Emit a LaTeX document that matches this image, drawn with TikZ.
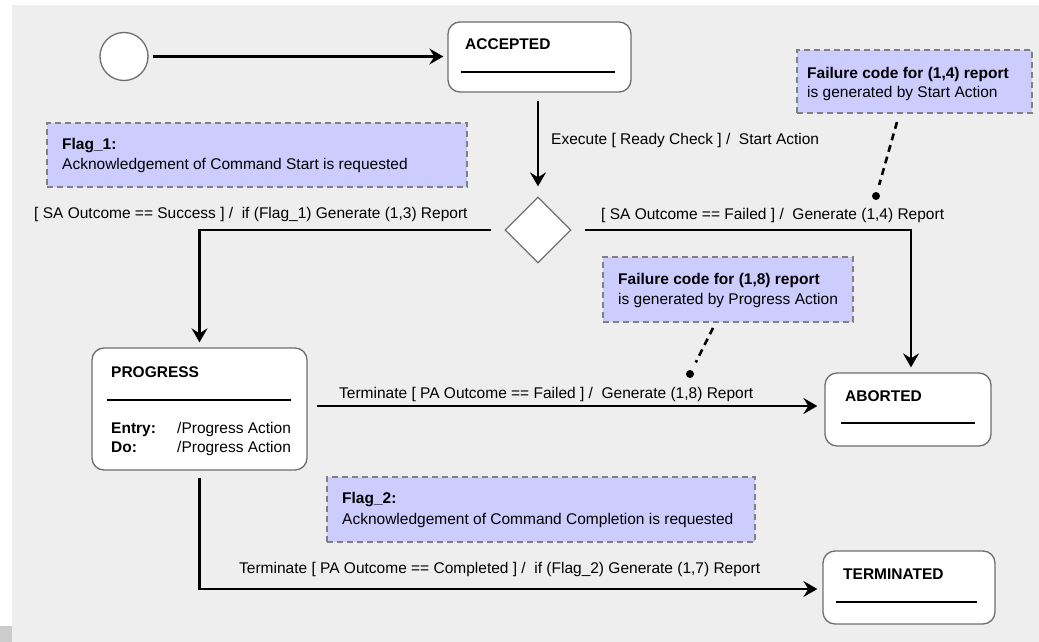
\documentclass[tikz,border=0pt]{standalone}
\usepackage{fontspec}
\setmainfont{Liberation Sans}
\usetikzlibrary{arrows.meta,calc,shapes.geometric}
\definecolor{canvas}{HTML}{EEEEEE}
\definecolor{corner}{HTML}{CCCCCD}
\definecolor{notefill}{HTML}{CCCCFF}
\definecolor{noteline}{HTML}{808080}
\definecolor{boxline}{HTML}{6E6E6E}
\begin{document}
\begin{tikzpicture}[x=1pt,y=-1pt,
  font=\fontsize{15.5}{18}\selectfont,
  statebox/.style={draw=boxline,line width=1.3pt,fill=white,rounded corners=12pt,inner sep=0pt},
  initstate/.style={circle,draw=boxline,line width=1.3pt,fill=white,minimum size=48pt,inner sep=0pt},
  choice/.style={diamond,aspect=1,draw=boxline,line width=1.3pt,fill=white,inner sep=0pt},
  notebox/.style={draw=noteline,fill=notefill,line width=1.4pt,dash pattern=on 6pt off 4pt,inner sep=0pt},
  conn/.style={line width=2.8pt,-{Stealth[length=14pt,width=16pt,inset=5pt]}},
  pointer/.style={line width=2.6pt,dash pattern=on 7pt off 5pt},
  dotmark/.style={circle,fill=black,minimum size=8pt,inner sep=0pt},
  divider/.style={line width=1.3pt},
  txt/.style={anchor=base west,inner sep=0pt},
  bold/.style={txt,font=\fontsize{15.5}{18}\selectfont\bfseries}]

% page and canvas
\fill[white] (0,0) rectangle (1039,642);
\fill[canvas] (12,5) rectangle (1039,642);
\fill[corner] (0,626) rectangle (12,642);

% notes
\node[notebox,minimum width=420pt,minimum height=64pt] (flag1) at (257,155) {};
\node[bold] (flag1h) at (62,149) {Flag\_1:};
\node[txt] (flag1t) at (62,169) {Acknowledgement of Command Start is requested};

\node[notebox,minimum width=235pt,minimum height=63pt] (n14) at (914.5,81.5) {};
\node[bold] (n14h) at (807,78) {Failure code for (1,4) report};
\node[txt] (n14t) at (807,97) {is generated by Start Action};

\node[notebox,minimum width=250pt,minimum height=65pt] (n18) at (728,289.5) {};
\node[bold] (n18h) at (618,284) {Failure code for (1,8) report};
\node[txt] (n18t) at (618,304) {is generated by Progress Action};

\node[notebox,minimum width=428pt,minimum height=65pt] (flag2) at (541,509.5) {};
\node[bold] (flag2h) at (342,503) {Flag\_2:};
\node[txt] (flag2t) at (342,524) {Acknowledgement of Command Completion is requested};

% states
\node[initstate] (init) at (124,56.5) {};

\node[statebox,minimum width=183pt,minimum height=70pt] (acc) at (539.5,57) {};
\node[bold] (acct) at (465,50) {ACCEPTED};
\draw[divider] (461,72) -- (615,72);

\node[choice,minimum width=66pt,minimum height=66pt] (dia) at (538,230) {};

\node[statebox,minimum width=215pt,minimum height=122pt] (prog) at (199.5,409) {};
\node[bold] (progt) at (111,377) {PROGRESS};
\draw[divider] (107,400) -- (291,400);
\node[bold] (entry) at (111,433) {Entry:};
\node[txt] (entrya) at (177,433) {/Progress Action};
\node[bold] (doo) at (111,452) {Do:};
\node[txt] (doa) at (177,452) {/Progress Action};

\node[statebox,minimum width=166pt,minimum height=73pt] (ab) at (908,409.5) {};
\node[bold] (abt) at (845,401) {ABORTED};
\draw[divider] (841,423) -- (975,423);

\node[statebox,minimum width=172pt,minimum height=73pt] (term) at (909,587.5) {};
\node[bold] (termt) at (843,579) {TERMINATED};
\draw[divider] (836,602) -- (977,602);

% transitions
\draw[conn,shorten <=4pt,shorten >=4pt] (init) -- (acc.west |- init);
\draw[conn,shorten <=8pt,shorten >=10pt] (acc.south -| dia) -- (dia.north);
\node[txt] (lexec) at (551,144) {Execute [ Ready Check ] /\ \ Start Action};

\draw[conn,shorten <=13pt,shorten >=5pt] (dia.west) -| (prog.north);
\node[txt] (lsucc) at (34,218) {[ SA Outcome == Success ] /\ \ if (Flag\_1) Generate (1,3) Report};

\draw[conn,shorten <=13pt,shorten >=5pt] (dia.east) -| ($(ab.north)+(3,0)$);
\node[txt] (lfail) at (601,219) {[ SA Outcome == Failed ] /\ \ Generate (1,4) Report};

\draw[conn,shorten <=9pt,shorten >=7pt] (prog.east |- 0,406) -- (ab.west |- 0,406);
\node[txt] (lpfail) at (339,398) {Terminate [ PA Outcome == Failed ] /\ \ Generate (1,8) Report};

\draw[conn,shorten <=7pt,shorten >=5pt] (prog.south) |- (term.west |- 0,589);
\node[txt] (lpdone) at (239,573) {Terminate [ PA Outcome == Completed ] /\ \ if (Flag\_2) Generate (1,7) Report};

% note pointers
\node[dotmark] (d14) at (876,196) {};
\coordinate (p14) at (897,122);
\draw[pointer] (p14) -- ($(p14)!0.85!(d14)$);

\node[dotmark] (d18) at (690,374) {};
\coordinate (p18) at (713,328);
\draw[pointer] (p18) -- ($(p18)!0.75!(d18)$);
\end{tikzpicture}
\end{document}
